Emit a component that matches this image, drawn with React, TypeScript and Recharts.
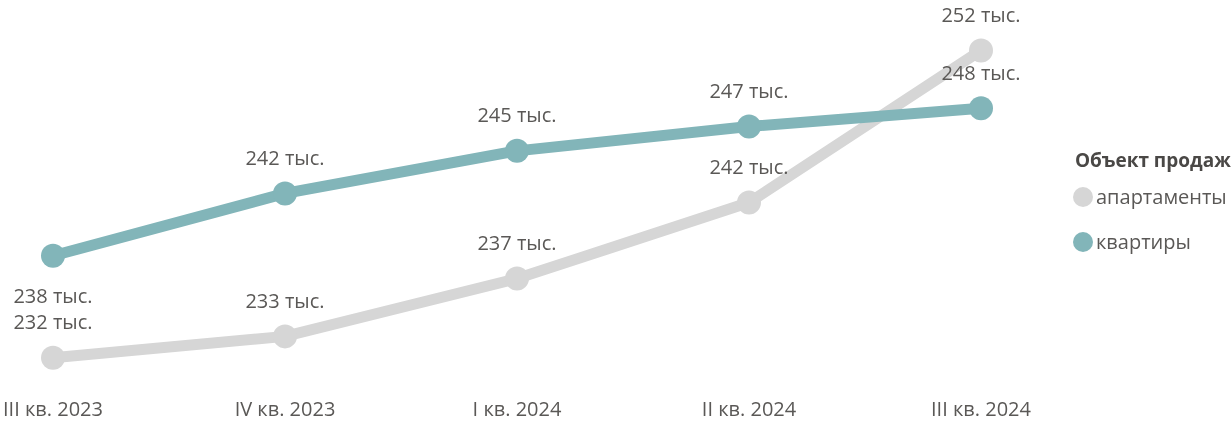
import { LabelList, Line, LineChart, XAxis, YAxis } from "recharts"

const quarters = ["III кв. 2023", "IV кв. 2023", "I кв. 2024", "II кв. 2024", "III кв. 2024"]
const apartmentsPrice = [231.6, 233.0, 236.8, 241.8, 251.8]
const flatsPrice = [238.3, 242.4, 245.2, 246.8, 248.0]

const series = [
  { key: "apartments", name: "апартаменты", color: "#D6D6D6", values: apartmentsPrice },
  { key: "flats", name: "квартиры", color: "#82B5B9", values: flatsPrice },
]

const data = quarters.map((quarter, i) => ({
  quarter,
  apartments: apartmentsPrice[i],
  flats: flatsPrice[i],
}))

const textColor = "#5A5856"
const font = "'Segoe UI', 'Open Sans', sans-serif"

// power bi pushed the first flats label under the point so it doesn't clash
const makeLabel = (key: string) => (props: any) => {
  const { x, y, value, index } = props
  const below = key === "flats" && index === 0
  return (
    <text
      x={x}
      y={below ? y + 40 : y - 36}
      textAnchor="middle"
      dominantBaseline="central"
      fill={textColor}
      fontSize={20}
      fontFamily={font}
    >
      {`${Math.round(value)} тыс.`}
    </text>
  )
}

const App = () => {
  return (
    <div
      style={{
        position: "fixed",
        left: 0,
        top: 0,
        width: 1232,
        height: 423,
        overflow: "hidden",
        fontFamily: font,
      }}
    >
      <LineChart
        width={1232}
        height={423}
        data={data}
        margin={{ top: 17, right: 251, bottom: 0, left: 53 }}
      >
        <XAxis
          dataKey="quarter"
          axisLine={false}
          tickLine={false}
          tickSize={0}
          tickMargin={20}
          height={41}
          tick={{ fill: textColor, fontSize: 20, fontFamily: font }}
        />
        <YAxis hide domain={[230, 254]} />
        {series.map((s) => (
          <Line
            key={s.key}
            dataKey={s.key}
            name={s.name}
            stroke={s.color}
            strokeWidth={11}
            dot={{ r: 12, fill: s.color, stroke: "none" }}
            activeDot={false}
            isAnimationActive={false}
          >
            <LabelList dataKey={s.key} content={makeLabel(s.key)} />
          </Line>
        ))}
      </LineChart>
      <div style={{ position: "absolute", left: 1075, top: 147, color: textColor, whiteSpace: "nowrap" }}>
        <div style={{ fontWeight: 700, fontSize: 19, lineHeight: "26px", color: "#4A4846" }}>
          Объект продаж
        </div>
        {series.map((s, i) => (
          <div
            key={s.key}
            style={{
              display: "flex",
              alignItems: "center",
              marginTop: i === 0 ? 11 : 19,
              fontSize: 20,
              lineHeight: "26px",
            }}
          >
            <span
              style={{
                display: "inline-block",
                width: 20,
                height: 20,
                borderRadius: "50%",
                background: s.color,
                marginLeft: -2,
                marginRight: 3,
              }}
            />
            {s.name}
          </div>
        ))}
      </div>
    </div>
  )
}

export default App
